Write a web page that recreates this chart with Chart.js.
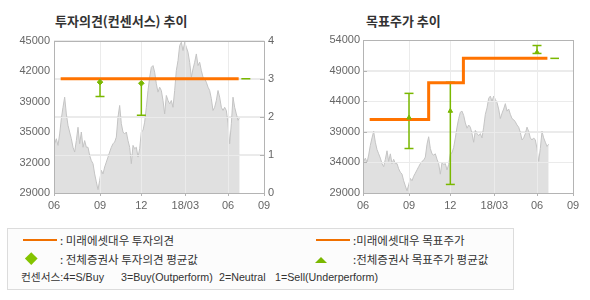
<!DOCTYPE html>
<html><head><meta charset="utf-8">
<script src="https://cdn.jsdelivr.net/npm/chart.js@4.4.1/dist/chart.umd.min.js"></script>
<style>
html,body{margin:0;padding:0;background:#fff;width:590px;height:300px;overflow:hidden;position:relative;font-family:"Noto Sans CJK KR",sans-serif;}
canvas{position:absolute;}
.title{position:absolute;top:12px;font-weight:bold;font-size:13px;color:#333;line-height:18px;white-space:nowrap;}
#legend{position:absolute;left:7px;top:228px;width:505px;height:60px;border:1px solid #dcdcdc;background:#fcfcfc;}
.lt{position:absolute;font-size:11.5px;color:#333;line-height:14px;white-space:pre;}
.bt{position:absolute;font-family:"Liberation Sans","Noto Sans CJK KR",sans-serif;font-size:10.7px;color:#333;line-height:14px;white-space:pre;top:270px;}
.oline{position:absolute;height:2px;background:#f07000;}
#dia{position:absolute;left:26.5px;top:254px;width:8.5px;height:8.5px;background:#84c400;transform:rotate(45deg);}
#tri{position:absolute;left:315px;top:257px;width:0;height:0;border-left:6.5px solid transparent;border-right:6.5px solid transparent;border-bottom:6px solid #7ab800;}
</style></head>
<body>
<div class="title" style="left:55px;">투자의견(컨센서스) 추이</div>
<div class="title" style="left:366px;">목표주가 추이</div>
<canvas id="c1" width="295" height="185" style="left:0;top:30px;"></canvas>
<canvas id="c2" width="295" height="185" style="left:295px;top:30px;"></canvas>
<div id="legend"></div>
<div class="oline" style="left:23px;top:238.5px;width:34px;"></div>
<div class="lt" style="left:60px;top:232.5px;">: 미래에셋대우 투자의견</div>
<div id="dia"></div>
<div class="lt" style="left:60px;top:251.5px;">: 전체증권사 투자의견 평균값</div>
<div class="oline" style="left:315.5px;top:238.5px;width:34.5px;"></div>
<div class="lt" style="left:353px;top:232.5px;">:미래에셋대우 목표주가</div>
<div id="tri"></div>
<div class="lt" style="left:353px;top:251.5px;">:전체증권사 목표주가 평균값</div>
<div class="bt" style="left:21px;">컨센서스:4=S/Buy</div>
<div class="bt" style="left:121px;">3=Buy(Outperform)</div>
<div class="bt" style="left:219px;">2=Neutral</div>
<div class="bt" style="left:275px;">1=Sell(Underperform)</div>
<script>
// ---- data ----
const xTickValues = [0, 69, 131, 197, 261, 315];
const xTickLabels = ['06', '09', '12', '18/03', '06', '09'];
const priceStart = 1, priceStep = 2.5;
const priceValues = [
 34170,34700,34000,35200,36800,38000,39060,37300,36100,35400,
 34700,33800,33300,34500,35900,34170,35400,33800,34500,33800,
 33800,32950,32400,32080,31000,30160,29350,30330,31380,31000,
 31730,32250,32770,33300,33800,34170,34350,34870,36970,38190,
 36270,35400,35200,35400,34500,33800,32080,34000,33650,33800,
 32770,33650,35400,35570,36440,38000,39760,41160,42200,42380,
 41680,40460,39590,40110,39760,38710,37300,39240,38710,38360,
 38710,38000,39760,41860,42900,44480,44830,43950,44830,44300,
 43780,42730,41160,42030,42730,43600,42380,42730,41860,41160,
 40980,40630,40110,39760,38900,37660,38000,38710,39760,39060,
 38000,37660,38000,37660,36270,34170,36270,39060,38000,37300,
 36620,36970];
const priceTickLabelsL = ['29000', '32000', '35000', '39000', '42000', '45000'];
const priceTickLabelsR = ['29000', '34000', '39000', '44000', '49000', '54000'];
const opinionTickLabels = ['0', '1', '2', '3', '4'];

// investment opinion (left chart)
const miraeOpinionX = [10, 277];
const miraeOpinionY = [3, 3];
const currentOpinionX = [281, 294.5];
const currentOpinionY = [3, 3];
const consOpinionX = [69, 131];
const consOpinionMean = [2.91, 2.88];
const consOpinionLow = [2.53, 2.04];

// target price (right chart)
const miraeTargetX = [10, 98.5, 150.6, 276.6];
const miraeTargetY = [41000, 47000, 51000, 51000];
const currentTargetX = [281, 294];
const currentTargetY = [51000, 51000];
const consTargetX = [69, 131, 261];
const consTargetMean = [41300, 42400, 52000];
const consTargetLow = [36270, 30400, 51800];
const consTargetHigh = [45280, 47100, 53100];

// ---- style ----
const ORANGE = '#ff7300', GREEN = '#7ab800', GRID = '#ebebeb', AXIS = '#b4b4b4';
const TICKFONT = {family: 'Liberation Sans', size: 11};
const TICKCOLOR = '#666';

const framePlugin = {
  id: 'frame',
  afterDatasetDraw(chart, args, opts) {
    if (chart.data.datasets[args.index].label !== 'price') return;
    const ctx = chart.ctx, a = chart.chartArea;
    ctx.save();
    ctx.strokeStyle = GRID; ctx.lineWidth = 1;
    const xs = chart.scales.x;
    xs.ticks.forEach(t => {
      const p = Math.round(xs.getPixelForValue(t.value)) + 0.5;
      if (p > a.left + 1 && p < a.right - 1) { ctx.beginPath(); ctx.moveTo(p, a.top); ctx.lineTo(p, a.bottom); ctx.stroke(); }
    });
    const ys = chart.scales[opts.gridAxis];
    ys.ticks.forEach(t => {
      const p = Math.round(ys.getPixelForValue(t.value)) + 0.5;
      if (p > a.top + 1 && p < a.bottom - 1) { ctx.beginPath(); ctx.moveTo(a.left, p); ctx.lineTo(a.right, p); ctx.stroke(); }
    });
    ctx.restore();
  },
  afterDraw(chart, args, opts) {
    const ctx = chart.ctx, a = chart.chartArea;
    ctx.save();
    ctx.strokeStyle = AXIS; ctx.lineWidth = 1;
    const ys = chart.scales[opts.gridAxis];
    ys.ticks.forEach(t => {
      const p = Math.round(ys.getPixelForValue(t.value)) + 0.5;
      if (p > a.top + 1 && p < a.bottom - 1) {
        ctx.beginPath();
        if (opts.tickSide === 'right') { ctx.moveTo(a.right - 4, p); ctx.lineTo(a.right, p); }
        else { ctx.moveTo(a.left, p); ctx.lineTo(a.left + 4, p); }
        ctx.stroke();
      }
    });
    ctx.strokeRect(Math.round(a.left) + 0.5, Math.round(a.top) + 0.5, Math.round(a.right - a.left), Math.round(a.bottom - a.top));
    ctx.restore();
  }
};

function xScale() {
  return {
    type: 'linear', min: 0, max: 315,
    afterBuildTicks: s => { s.ticks = xTickValues.map(v => ({value: v})); },
    afterFit: s => { s.height = 22; },
    ticks: {callback: (v, i) => xTickLabels[i], font: TICKFONT, color: TICKCOLOR, padding: 3, maxRotation: 0, autoSkip: false},
    grid: {color: GRID, tickColor: AXIS, tickLength: 3, drawTicks: true},
    border: {display: false}
  };
}
function pts(xs, ys) { return xs.map((x, i) => ({x: x, y: ys[i]})); }
function barSegments(xs, lo, hi, axis) {
  return xs.map((x, i) => ({label: 'bar', data: [{x: x, y: lo[i]}, {x: x, y: hi[i]}], yAxisID: axis,
    borderColor: GREEN, borderWidth: 1.5, pointRadius: 0, fill: false, order: 3}));
}
function priceDataset() {
  return {label: 'price', data: priceValues.map((v, i) => ({x: priceStart + i * priceStep, y: v})), yAxisID: 'y',
    borderColor: '#c4c4c4', borderWidth: 1, backgroundColor: '#e0e0e0', fill: 'start', pointRadius: 0, tension: 0, order: 10};
}

Chart.defaults.animation = false;
Chart.defaults.plugins.legend.display = false;
Chart.defaults.plugins.tooltip.enabled = false;

new Chart(document.getElementById('c1'), {
  type: 'line',
  plugins: [framePlugin],
  data: {datasets: [
    {label: 'mirae', data: pts(miraeOpinionX, miraeOpinionY), yAxisID: 'y1', borderColor: ORANGE, borderWidth: 3, pointRadius: 0, fill: false, order: 1},
    {label: 'current', data: pts(currentOpinionX, currentOpinionY), yAxisID: 'y1', borderColor: GREEN, borderWidth: 1.5, pointRadius: 0, fill: false, order: 2},
    ...barSegments(consOpinionX, consOpinionLow, consOpinionMean, 'y1'),
    {label: 'cap', data: pts(consOpinionX, consOpinionLow), yAxisID: 'y1', showLine: false, pointStyle: 'line', pointRadius: 4.5,
      pointBorderColor: GREEN, pointBorderWidth: 1.5, order: 3},
    {label: 'mean', data: pts(consOpinionX, consOpinionMean), yAxisID: 'y1', showLine: false, pointStyle: 'rectRot', pointRadius: 2.8,
      pointBackgroundColor: GREEN, pointBorderColor: GREEN, pointBorderWidth: 1, order: 0},
    priceDataset()
  ]},
  options: {
    responsive: false, devicePixelRatio: 1,
    layout: {padding: {top: 10, left: 0, right: 0, bottom: 0}},
    plugins: {frame: {gridAxis: 'y1', tickSide: 'right'}},
    scales: {
      x: xScale(),
      y: {type: 'linear', position: 'left', min: 29000, max: 45000,
        ticks: {stepSize: 3200, callback: (v, i) => priceTickLabelsL[i], font: TICKFONT, color: TICKCOLOR, padding: 4},
        grid: {display: false, drawTicks: false}, border: {display: false},
        afterFit: s => { s.width = 54; }},
      y1: {type: 'linear', position: 'right', min: 0, max: 4,
        ticks: {stepSize: 1, callback: (v, i) => opinionTickLabels[i], font: TICKFONT, color: TICKCOLOR, padding: 4},
        grid: {color: GRID, drawTicks: false}, border: {display: false},
        afterFit: s => { s.width = 31; }}
    }
  }
});

new Chart(document.getElementById('c2'), {
  type: 'line',
  plugins: [framePlugin],
  data: {datasets: [
    {label: 'mirae', data: pts(miraeTargetX, miraeTargetY), yAxisID: 'y', borderColor: ORANGE, borderWidth: 3, pointRadius: 0, stepped: true, fill: false, order: 1},
    {label: 'current', data: pts(currentTargetX, currentTargetY), yAxisID: 'y', borderColor: GREEN, borderWidth: 1.5, pointRadius: 0, fill: false, order: 2},
    ...barSegments(consTargetX, consTargetLow, consTargetHigh, 'y'),
    {label: 'cap', data: pts(consTargetX, consTargetLow).concat(pts(consTargetX, consTargetHigh)), yAxisID: 'y', showLine: false, pointStyle: 'line', pointRadius: 4.5,
      pointBorderColor: GREEN, pointBorderWidth: 1.5, order: 3},
    {label: 'mean', data: pts(consTargetX, consTargetMean), yAxisID: 'y', showLine: false, pointStyle: 'triangle', pointRadius: 2.6,
      pointBackgroundColor: GREEN, pointBorderColor: GREEN, pointBorderWidth: 1, order: 0},
    priceDataset()
  ]},
  options: {
    responsive: false, devicePixelRatio: 1,
    layout: {padding: {top: 10, left: 0, right: 17, bottom: 0}},
    plugins: {frame: {gridAxis: 'y', tickSide: 'left'}},
    scales: {
      x: xScale(),
      y: {type: 'linear', position: 'left', min: 29000, max: 54000,
        ticks: {stepSize: 5000, callback: (v, i) => priceTickLabelsR[i], font: TICKFONT, color: TICKCOLOR, padding: 3},
        grid: {color: GRID, drawTicks: false}, border: {display: false},
        afterFit: s => { s.width = 68; }}
    }
  }
});
</script>
</body></html>
